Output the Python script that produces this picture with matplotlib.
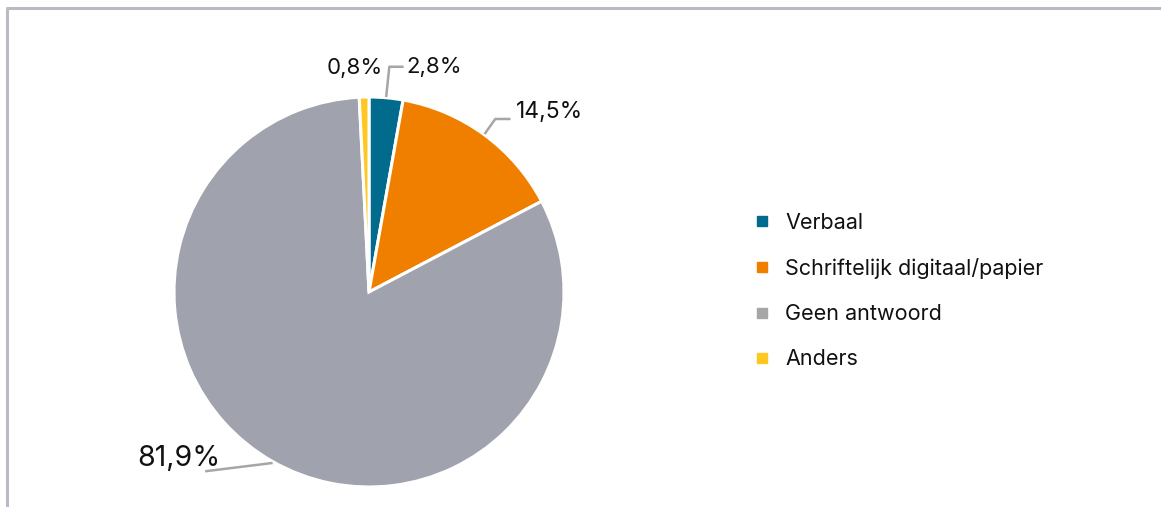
import matplotlib
matplotlib.use("Agg")
import matplotlib.pyplot as plt
from matplotlib.lines import Line2D
import numpy as np

plt.rcParams['font.family'] = ['Inter', 'DejaVu Sans']

categories = ["Verbaal", "Schriftelijk digitaal/papier", "Geen antwoord", "Anders"]
values = [2.8, 14.5, 81.9, 0.8]
labels = ["2,8%", "14,5%", "81,9%", "0,8%"]
colors = ["#006b8c", "#f07f00", "#a0a3ad", "#fec722"]
legend_colors = ["#006b8c", "#f07f00", "#a6a6a6", "#fec722"]

W, H = 1161, 507
fig = plt.figure(figsize=(W / 100, H / 100), dpi=100)
ax = fig.add_axes([0, 0, 1, 1])

cx, cy, R = 369, H - 292, 195
wedges, _ = ax.pie(values, colors=colors, startangle=90, counterclock=False,
                   center=(cx, cy), radius=R,
                   wedgeprops=dict(edgecolor='white', linewidth=2.2))
ax.set_xlim(0, W)
ax.set_ylim(0, H)
ax.set_aspect('equal')
ax.axis('off')

# frame lines (top and left)
ax.plot([6, W], [H - 8, H - 8], color="#b9bac4", lw=2.2, solid_capstyle='butt')
ax.plot([7, 7], [0, H - 8], color="#b9bac4", lw=2.2, solid_capstyle='butt')

styles = [
    dict(elbow=(3, 29), end=(16, 29), text=(20, 29), ha='left', size=16, leader=True),
    dict(elbow=(10, 14), end=(24, 14), text=(31, 21), ha='left', size=16.5, leader=True),
    dict(elbow=(-65, -8), end=(-65, -8), text=(-51, 5), ha='right', size=20.5, leader=True),
    dict(elbow=(0, 0), end=(0, 0), text=(-9, 27), ha='center', size=16, leader=False),
]

cum = 0.0
total = sum(values)
for v, lab, st in zip(values, labels, styles):
    mid = 90 - (cum + v / 2) / total * 360
    cum += v
    a = np.deg2rad(mid)
    px, py = cx + (R + 2) * np.cos(a), cy + (R + 2) * np.sin(a)
    if st['leader']:
        ex, ey = px + st['elbow'][0], py + st['elbow'][1]
        fx, fy = px + st['end'][0], py + st['end'][1]
        ax.plot([px, ex, fx], [py, ey, fy], color="#a6a6a6", lw=1.8)
    ax.text(px + st['text'][0], py + st['text'][1], lab, ha=st['ha'], va='center',
            fontsize=st['size'], color="#111111")

handles = [Line2D([0], [0], marker='s', linestyle='none', markersize=7,
                  markerfacecolor=c, markeredgecolor=c) for c in legend_colors]
ax.legend(handles, categories, loc='center left', bbox_to_anchor=(743 / W, 1 - 291 / H),
          frameon=False, fontsize=15.5, labelspacing=1.17, handletextpad=0.55,
          handlelength=1.0, borderaxespad=0, labelcolor="#111111")

fig.savefig("out.png", dpi=100)
